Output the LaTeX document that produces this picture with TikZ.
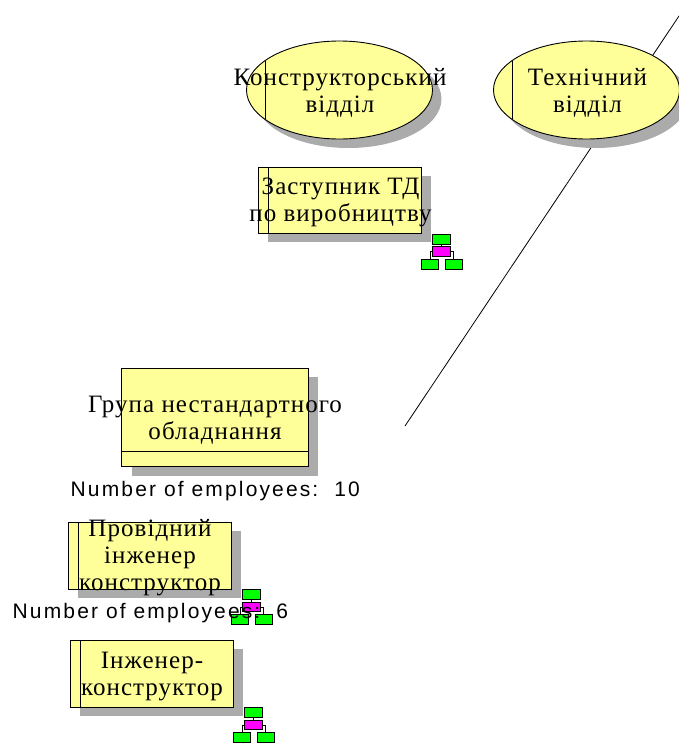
\documentclass[tikz,border=0pt]{standalone}
\usepackage{fontspec}
\setmainfont[LetterSpace=4.2]{Liberation Serif}
\newfontfamily\labelsans[LetterSpace=10.2]{Liberation Sans}
\usetikzlibrary{shapes.geometric}
\definecolor{paleyellow}{HTML}{FFFF99}
\definecolor{shadowgrey}{HTML}{ABABAB}
\definecolor{icongreen}{HTML}{00FF00}
\definecolor{iconmagenta}{HTML}{FF00FF}
\tikzset{
  x=1pt,y=-1pt,
  every node/.style={inner sep=0pt,outer sep=0pt},
  ovalbox/.style={ellipse,draw=black,fill=paleyellow,line width=0.9pt,minimum width=186pt,minimum height=98pt},
  ovalshadow/.style={ellipse,fill=shadowgrey,minimum width=186pt,minimum height=98pt},
  rectbox/.style={rectangle,draw=black,fill=paleyellow,line width=0.9pt},
  rectshadow/.style={rectangle,fill=shadowgrey},
  serifname/.style={anchor=base,align=center,font=\fontsize{25}{27}\selectfont,text=black},
  countlabel/.style={anchor=base west,font=\labelsans\fontsize{21}{24}\selectfont,text=black},
  iconbox/.style={rectangle,draw=black,line width=0.8pt,minimum width=17.6pt,minimum height=9.8pt},
  pics/orgicon/.style={code={
    \node[iconbox,fill=icongreen] (-top) at (9.2,5.2) {};
    \node[iconbox,fill=iconmagenta] (-mid) at (9.2,17.6) {};
    \node[iconbox,fill=icongreen] (-left) at (-2.3,30.4) {};
    \node[iconbox,fill=icongreen] (-right) at (21.5,30.4) {};
    \draw[line width=0.7pt] (-top) -- (-mid);
    \draw[line width=0.7pt] (-mid.west) -| (-left.north);
    \draw[line width=0.7pt] (-mid.east) -| (-right.north);
  }}
}
\begin{document}
\begin{tikzpicture}
\useasboundingbox (0,0) rectangle (679,747);
\clip (0,0) rectangle (679,747);
\coordinate (lineA) at (405,426);
\coordinate (lineB) at (681,13);
\draw[line width=0.8pt] (lineA) -- (lineB);

% ovals
\node[ovalshadow] (s1) at (348.5,99) {};
\node[ovalshadow] (s2) at (595.5,99) {};
\node[ovalbox] (e1) at (339.5,90) {};
\node[ovalbox] (e2) at (586.5,90) {};
\draw[line width=0.9pt] ([xshift=18.5pt,yshift=29.3pt]e1.west) -- ([xshift=18.5pt,yshift=-29.3pt]e1.west);
\draw[line width=0.9pt] ([xshift=18.5pt,yshift=29.3pt]e2.west) -- ([xshift=18.5pt,yshift=-29.3pt]e2.west);

% rect with stripe
\node[rectshadow,minimum width=163pt,minimum height=66.5pt] (s3) at (349.8,209) {};
\node[rectbox,minimum width=163pt,minimum height=66.5pt] (r1) at (339.8,200.5) {};
\draw[line width=0.9pt] ([xshift=10pt]r1.north west) -- ([xshift=10pt]r1.south west);

\node[rectshadow,minimum width=186.3pt,minimum height=98.4pt] (s4) at (224.8,426.5) {};
\node[rectbox,minimum width=186.3pt,minimum height=98.4pt] (r2) at (214.8,417.5) {};
\draw[line width=0.9pt] ([yshift=15.4pt]r2.south west) -- ([yshift=15.4pt]r2.south east);

\node[rectshadow,minimum width=163pt,minimum height=66.7pt] (s5) at (159.8,564.7) {};
\node[rectbox,minimum width=163pt,minimum height=66.7pt] (r3) at (149.8,555.7) {};
\draw[line width=0.9pt] ([xshift=9.7pt]r3.north west) -- ([xshift=9.7pt]r3.south west);

\node[rectshadow,minimum width=162.7pt,minimum height=66.6pt] (s6) at (161.6,682.5) {};
\node[rectbox,minimum width=162.7pt,minimum height=66.6pt] (r4) at (151.6,674) {};
\draw[line width=0.9pt] ([xshift=10pt]r4.north west) -- ([xshift=10pt]r4.south west);

% icons
\pic (i1) at (432.3,234) {orgicon};
\pic (i2) at (242.3,589.3) {orgicon};
\pic (i3) at (244.3,707.3) {orgicon};

% labels
\node[serifname] (t1) at (340,112) {Конструкторський\\відділ};
\node[serifname] (t2) at (587.5,112) {Технічний\\відділ};
\node[serifname] (t3) at (340.5,221.7) {Заступник ТД\\по виробництву};
\node[serifname] (t4) at (215,439) {Група нестандартного\\обладнання};
\node[serifname] (t5) at (150,590) {Провідний\\інженер\\конструктор};
\node[serifname] (t6) at (152,695) {Інженер-\\конструктор};
\node[countlabel] (n1) at (70.7,496.7) {Number of employees:\ \ 10};
\node[countlabel] (n2) at (12.7,618.3) {Number of employees:\ \ 6};
\end{tikzpicture}
\end{document}
